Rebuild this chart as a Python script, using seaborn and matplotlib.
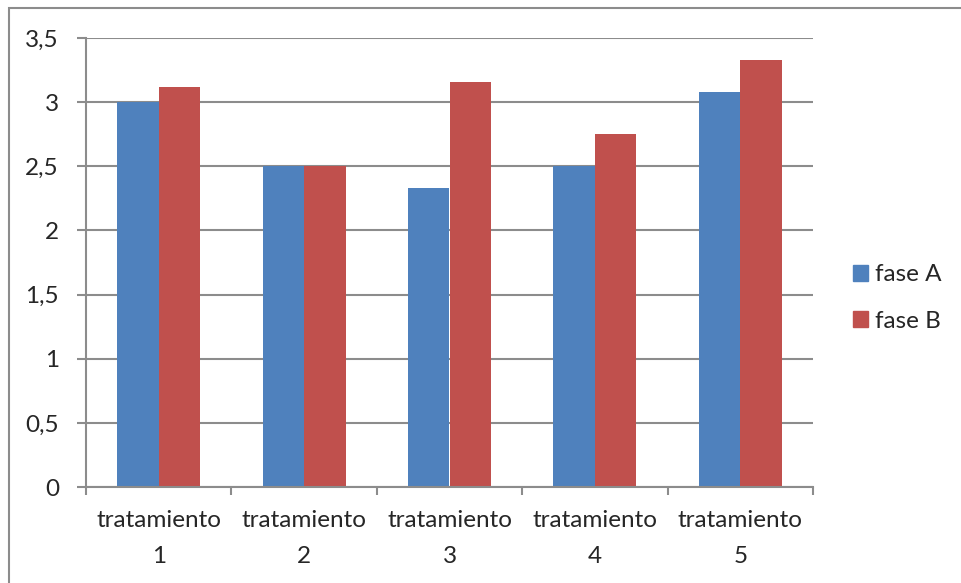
import matplotlib
matplotlib.use("Agg")
import matplotlib.pyplot as plt
import matplotlib.patches as mpatches
import matplotlib.transforms as mtransforms
import pandas as pd
import seaborn as sns
from matplotlib.ticker import FuncFormatter, FixedLocator

# Data
categories = ["tratamiento\n1", "tratamiento\n2", "tratamiento\n3", "tratamiento\n4", "tratamiento\n5"]
fase_a = [3.0, 2.5, 2.33, 2.5, 3.08]
fase_b = [3.12, 2.5, 3.16, 2.75, 3.33]
series_names = ["fase A", "fase B"]
colors = ["#4F81BD", "#C0504D"]

df = pd.DataFrame({
    "categoria": categories * 2,
    "valor": fase_a + fase_b,
    "serie": [series_names[0]] * len(categories) + [series_names[1]] * len(categories),
})

sns.set_style("white")
plt.rcParams["font.family"] = ["Lato", "DejaVu Sans"]

W, H = 961, 583
FS = 17.5
fig = plt.figure(figsize=(W / 100, H / 100), dpi=100)
ax = fig.add_axes([86 / W, 1 - 487 / H, (813 - 86) / W, (487 - 38) / H])

sns.barplot(data=df, x="categoria", y="valor", hue="serie", palette=colors,
            width=0.571, gap=0, saturation=1, edgecolor="none", ax=ax, legend=True)

ax.set_xlim(-0.5, len(categories) - 0.5)
ax.set_ylim(0, 3.5)
ax.set_yticks([i * 0.5 for i in range(8)])
ax.yaxis.set_major_formatter(FuncFormatter(lambda v, p: f"{v:g}".replace(".", ",")))
ax.set_xlabel("")
ax.set_ylabel("")

ax.yaxis.grid(True, color="#8c8c8c", linewidth=1.5)
ax.set_axisbelow(True)
for s in ["top", "right"]:
    ax.spines[s].set_visible(False)
for s in ["left", "bottom"]:
    ax.spines[s].set_color("#8c8c8c")
    ax.spines[s].set_linewidth(1.5)

ax.tick_params(axis="y", which="both", direction="out", length=6.5, width=1.5, color="#8c8c8c",
               labelsize=FS, pad=13, left=True)
# category labels drawn as text so the line spacing can be controlled
ax.tick_params(axis="x", which="major", length=0, labelbottom=False)
ax.xaxis.set_minor_locator(FixedLocator([i - 0.5 for i in range(len(categories) + 1)]))
ax.tick_params(axis="x", which="minor", direction="out", length=5.5, width=1.5, color="#8c8c8c", bottom=True)
trans = mtransforms.blended_transform_factory(ax.transData, ax.transAxes)
for i, cat in enumerate(categories):
    top, bottom = cat.split("\n")
    ax.text(i, -23 / 449, top, transform=trans, ha="center", va="top", fontsize=FS)
    ax.text(i, -59 / 449, bottom, transform=trans, ha="center", va="top", fontsize=FS)

handles = [mpatches.Patch(color=c, label=n) for c, n in zip(colors, series_names)]
ax.legend(handles=handles, loc="center left", bbox_to_anchor=(853 / W, 1 - 298 / H),
          bbox_transform=fig.transFigure, frameon=False, fontsize=FS,
          handlelength=0.62, handleheight=0.62, handletextpad=0.3, labelspacing=1.05,
          borderaxespad=0, borderpad=0)

# outer frame (only top and left edges visible in the reference)
fig.patches.append(mpatches.Rectangle((9 / W, -0.1), 1.2, 1 - 8 / H + 0.1, transform=fig.transFigure,
                                      fill=False, edgecolor="#8c8c8c", linewidth=1.5))

fig.savefig("out.png", dpi=100)
